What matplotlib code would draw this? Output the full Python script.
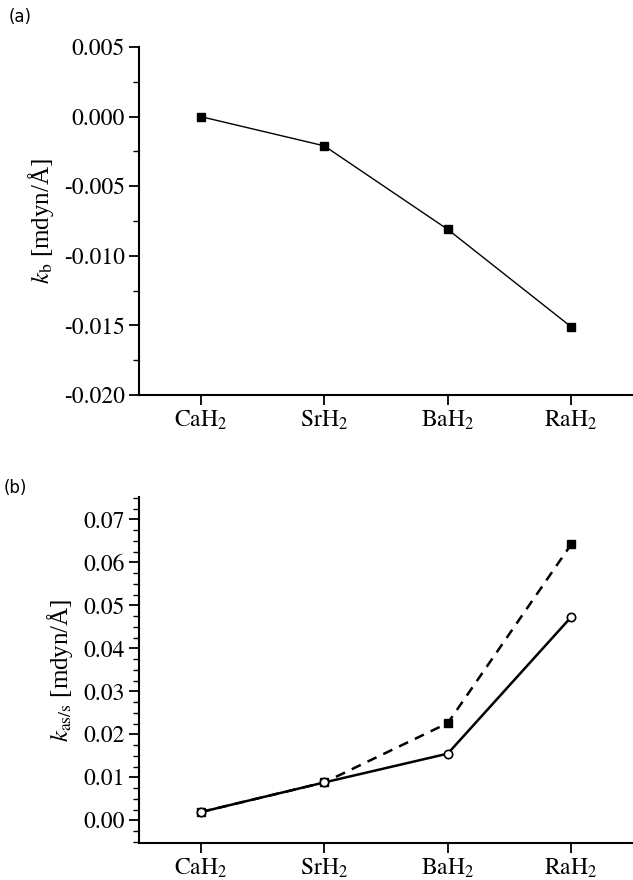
import matplotlib.pyplot as plt
from matplotlib.ticker import MultipleLocator, FormatStrFormatter

plt.rcParams['font.family'] = ['STIXGeneral', 'DejaVu Serif']
plt.rcParams['mathtext.fontset'] = 'stix'
plt.rcParams['axes.unicode_minus'] = False

# data
categories = ['CaH$_2$', 'SrH$_2$', 'BaH$_2$', 'RaH$_2$']
kb = [0.0000, -0.0021, -0.0081, -0.0151]
k_solid = [0.0019, 0.0088, 0.0155, 0.0473]
k_dashed = [0.0019, 0.0088, 0.0226, 0.0642]

x = list(range(len(categories)))

fig = plt.figure(figsize=(6.33, 8.8), dpi=100)
ax1 = fig.add_axes([0.2196, 0.551, 0.7804, 0.3956])
ax2 = fig.add_axes([0.2196, 0.042, 0.7804, 0.3932])

for ax in (ax1, ax2):
    ax.spines['top'].set_visible(False)
    ax.spines['right'].set_visible(False)
    ax.spines['left'].set_linewidth(1.5)
    ax.spines['bottom'].set_linewidth(1.5)
    ax.set_xlim(-0.5, 3.5)
    ax.set_xticks(x)
    ax.set_xticklabels(categories)
    ax.tick_params(direction='out', length=7, width=1.3, labelsize=17, pad=3)
    ax.tick_params(which='minor', direction='out', length=4, width=1.0)
    ax.tick_params(axis='x', which='minor', length=0)

# (a)
ax1.plot(x, kb, color='black', lw=1.0, marker='s', ms=6, mfc='black')
ax1.set_ylim(-0.020, 0.005)
ax1.yaxis.set_major_locator(MultipleLocator(0.005))
ax1.yaxis.set_minor_locator(MultipleLocator(0.0025))
ax1.yaxis.set_major_formatter(FormatStrFormatter('%.3f'))
ax1.set_ylabel(r'$k_\mathrm{b}$ [mdyn/Å]', fontsize=18, labelpad=6,
               family=['Liberation Serif', 'STIXGeneral'])
fig.text(0.013, 0.975, '(a)', fontsize=12, family='DejaVu Sans')

# (b)
ax2.plot(x, k_dashed, color='black', lw=1.8, ls=(0, (4, 3)), marker='s', ms=6, mfc='black')
ax2.plot(x, k_solid, color='black', lw=1.8, marker='o', ms=6, mfc='white', mew=1.2)
ax2.set_ylim(-0.0053, 0.0752)
ax2.yaxis.set_major_locator(MultipleLocator(0.01))
ax2.yaxis.set_minor_locator(MultipleLocator(0.0025))
ax2.yaxis.set_major_formatter(FormatStrFormatter('%.2f'))
ax2.set_ylabel(r'$k_\mathrm{as/s}$ [mdyn/Å]', fontsize=18, labelpad=6,
               family=['Liberation Serif', 'STIXGeneral'])
fig.text(0.005, 0.44, '(b)', fontsize=12, family='DejaVu Sans')

fig.savefig('out.png', dpi=100)
